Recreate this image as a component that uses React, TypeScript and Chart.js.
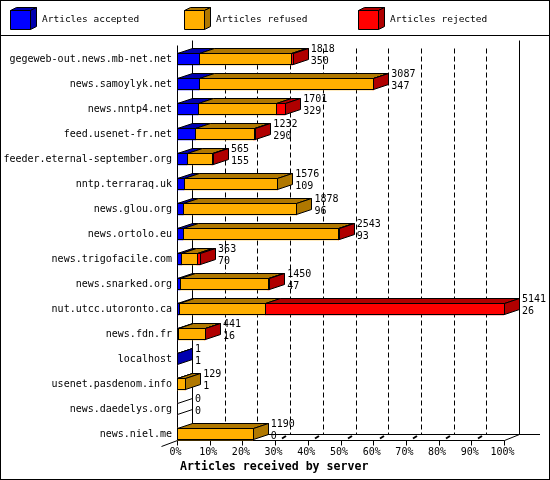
import React, { useEffect, useRef } from "react";
import { Chart, registerables } from "chart.js";

Chart.register(...registerables);

const servers = [
  "gegeweb-out.news.mb-net.net",
  "news.samoylyk.net",
  "news.nntp4.net",
  "feed.usenet-fr.net",
  "feeder.eternal-september.org",
  "nntp.terraraq.uk",
  "news.glou.org",
  "news.ortolo.eu",
  "news.trigofacile.com",
  "news.snarked.org",
  "nut.utcc.utoronto.ca",
  "news.fdn.fr",
  "localhost",
  "usenet.pasdenom.info",
  "news.daedelys.org",
  "news.niel.me",
];
const accepted = [350, 347, 329, 290, 155, 109, 96, 93, 70, 47, 26, 16, 1, 1, 0, 0];
const refused = [1440, 2735, 1230, 915, 395, 1467, 1782, 2445, 244, 1384, 1362, 420, 0, 128, 0, 1190];
const rejected = [28, 5, 142, 27, 15, 0, 0, 5, 49, 19, 3753, 5, 0, 0, 0, 0];
const seriesNames = ["Articles accepted", "Articles refused", "Articles rejected"];
const percentTicks = [0, 10, 20, 30, 40, 50, 60, 70, 80, 90, 100];
const xTitle = "Articles received by server";

const FRONT = ["#0000FF", "#FFAF00", "#FF0000"];
const DARK = ["#0000B0", "#B07800", "#B00000"];
const DX = 15;
const DY = 5;
const MONO = "'DejaVu Sans Mono', 'Liberation Mono', monospace";

const totals = servers.map((_, i) => accepted[i] + refused[i] + rejected[i]);
const maxTotal = Math.max(...totals);

function poly(ctx: CanvasRenderingContext2D, pts: number[][], fill: string | null) {
  ctx.beginPath();
  ctx.moveTo(pts[0][0], pts[0][1]);
  for (let i = 1; i < pts.length; i++) ctx.lineTo(pts[i][0], pts[i][1]);
  ctx.closePath();
  if (fill) {
    ctx.fillStyle = fill;
    ctx.fill();
  }
  ctx.stroke();
}

function seg(ctx: CanvasRenderingContext2D, x1: number, y1: number, x2: number, y2: number) {
  ctx.beginPath();
  ctx.moveTo(x1, y1);
  ctx.lineTo(x2, y2);
  ctx.stroke();
}

const r = (v: number) => Math.round(v) + 0.5;

const threeD = {
  id: "threeD",
  beforeDraw(chart: any) {
    const ctx: CanvasRenderingContext2D = chart.ctx;
    const W = chart.width;
    const H = chart.height;
    ctx.save();
    ctx.fillStyle = "#fff";
    ctx.fillRect(0, 0, W, H);
    ctx.strokeStyle = "#000";
    ctx.lineWidth = 1;
    ctx.strokeRect(0.5, 0.5, W - 1, H - 1);
    seg(ctx, 0, 35.5, W, 35.5);
    const lx = [10, 184, 358];
    for (let k = 0; k < 3; k++) {
      const x = lx[k] + 0.5;
      const y = 10.5;
      const w = 20;
      const h = 19;
      const dx = 6;
      const dy = 3;
      poly(ctx, [[x, y], [x + w, y], [x + w, y + h], [x, y + h]], FRONT[k]);
      poly(ctx, [[x, y], [x + dx, y - dy], [x + w + dx, y - dy], [x + w, y]], DARK[k]);
      poly(ctx, [[x + w, y], [x + w + dx, y - dy], [x + w + dx, y + h - dy], [x + w, y + h]], DARK[k]);
      ctx.fillStyle = "#000";
      ctx.font = `9.5px ${MONO}`;
      ctx.textAlign = "left";
      ctx.textBaseline = "middle";
      ctx.fillText(seriesNames[k], lx[k] + 32, 20);
    }
    ctx.restore();
  },
  beforeDatasetsDraw(chart: any) {
    const ctx: CanvasRenderingContext2D = chart.ctx;
    const xs = chart.scales.x;
    const ys = chart.scales.y;
    const area = chart.chartArea;
    const floorY = Math.round(ys.getPixelForValue(servers.length - 1) + 6) + 0.5;
    const backFloorY = floorY - 6;
    const backTop = Math.round(area.top - 6.5) + 0.5;
    const x0 = r(xs.getPixelForValue(0));
    const x100 = r(xs.getPixelForValue(maxTotal));
    ctx.save();
    ctx.strokeStyle = "#000";
    ctx.lineWidth = 1;
    // dashed back grid
    ctx.setLineDash([5, 3]);
    for (const p of percentTicks) {
      if (p === 0 || p === 100) continue;
      const gx = r(xs.getPixelForValue((maxTotal * p) / 100)) + DX;
      seg(ctx, gx, backTop + 8, gx, backFloorY);
    }
    ctx.setLineDash([]);
    // back axis & right wall
    seg(ctx, x0 + DX, backTop, x0 + DX, backFloorY);
    seg(ctx, x100 + DX, backTop, x100 + DX, backFloorY);
    // back floor line
    seg(ctx, x0 + DX, backFloorY, chart.width - 10, backFloorY);
    // front axis
    seg(ctx, x0, backTop + 5, x0, floorY);
    seg(ctx, x0, floorY, x100, floorY);
    seg(ctx, x100, floorY, x100 + DX, backFloorY);
    seg(ctx, x0 - 16, floorY + 6, x0, floorY);
    // floor grid marks and ticks
    for (const p of percentTicks) {
      const tx = r(xs.getPixelForValue((maxTotal * p) / 100));
      seg(ctx, tx, floorY, tx, floorY + 5);
      if (p === 100) continue;
      ctx.lineWidth = 2;
      seg(ctx, tx + 6.5, floorY - 2, tx + 10.5, floorY - 4.5);
      ctx.lineWidth = 1;
    }
    ctx.restore();
  },
  afterDatasetsDraw(chart: any) {
    const ctx: CanvasRenderingContext2D = chart.ctx;
    const xs = chart.scales.x;
    const metas = [0, 1, 2].map((k) => chart.getDatasetMeta(k));
    ctx.save();
    ctx.strokeStyle = "#000";
    ctx.lineWidth = 1;
    for (let i = 0; i < servers.length; i++) {
      const vals = [accepted[i], refused[i], rejected[i]];
      const el0 = metas[0].data[i];
      const cy = el0.y;
      const half = el0.height / 2;
      const yT = r(cy - half);
      const yB = r(cy + half) - 1;
      let lastK = -1;
      let lastEnd = r(xs.getPixelForValue(0));
      for (let k = 0; k < 3; k++) {
        if (vals[k] <= 0) continue;
        const el = metas[k].data[i];
        const a = r(Math.min(el.base, el.x));
        const b = r(Math.max(el.base, el.x));
        // front outline
        ctx.strokeRect(a, yT, b - a, yB - yT);
        // top face
        poly(ctx, [[a, yT], [a + DX, yT - DY], [b + DX, yT - DY], [b, yT]], DARK[k]);
        lastK = k;
        lastEnd = b;
      }
      if (lastK >= 0) {
        poly(
          ctx,
          [[lastEnd, yT], [lastEnd + DX, yT - DY], [lastEnd + DX, yB - DY], [lastEnd, yB]],
          DARK[lastK]
        );
      } else {
        poly(ctx, [[lastEnd, yT], [lastEnd + DX, yT - DY], [lastEnd + DX, yB - DY], [lastEnd, yB]], null);
      }
      // value labels
      const fx = xs.getPixelForValue(totals[i]);
      ctx.fillStyle = "#000";
      ctx.font = `10px ${MONO}`;
      ctx.textAlign = "left";
      ctx.textBaseline = "middle";
      ctx.fillText(String(totals[i]), fx + 18, cy - 9.5);
      ctx.fillText(String(accepted[i]), fx + 18, cy + 2);
    }
    ctx.restore();
  },
  afterDraw(chart: any) {
    const ctx: CanvasRenderingContext2D = chart.ctx;
    const xs = chart.scales.x;
    const ys = chart.scales.y;
    const floorY = ys.getPixelForValue(servers.length - 1) + 6;
    ctx.save();
    ctx.fillStyle = "#000";
    ctx.font = `10px ${MONO}`;
    ctx.textAlign = "center";
    ctx.textBaseline = "middle";
    for (const p of percentTicks) {
      const tx = xs.getPixelForValue((maxTotal * p) / 100);
      ctx.fillText(p + "%", tx - 1.5, floorY + 12.5);
    }
    ctx.font = `bold 11.6px ${MONO}`;
    ctx.textAlign = "left";
    ctx.fillText(xTitle, 180, floorY + 27);
    ctx.restore();
  },
};

export default function App() {
  const ref = useRef<HTMLCanvasElement | null>(null);
  useEffect(() => {
    document.body.style.margin = "0";
    const canvas = ref.current;
    if (!canvas) return;
    const chart = new Chart(canvas, {
      type: "bar",
      data: {
        labels: servers,
        datasets: [
          { label: seriesNames[0], data: accepted, backgroundColor: FRONT[0] },
          { label: seriesNames[1], data: refused, backgroundColor: FRONT[1] },
          { label: seriesNames[2], data: rejected, backgroundColor: FRONT[2] },
        ].map((d) => ({ ...d, borderWidth: 0, barThickness: 12, stack: "s" })),
      },
      options: {
        indexAxis: "y",
        responsive: false,
        animation: false,
        devicePixelRatio: 1,
        layout: { padding: { left: 0, right: 46, top: 46.5, bottom: 33.5 } },
        plugins: { legend: { display: false }, tooltip: { enabled: false } },
        scales: {
          x: { type: "linear", stacked: true, min: 0, max: maxTotal, display: false },
          y: {
            type: "category",
            stacked: true,
            grid: { display: false, drawTicks: false },
            border: { display: false },
            ticks: {
              color: "#000",
              padding: 5,
              autoSkip: false,
              font: { family: MONO, size: 10 },
            },
            afterFit: (s: any) => {
              s.width = 177;
            },
          },
        },
      },
      plugins: [threeD],
    } as any);
    return () => chart.destroy();
  }, []);
  return <canvas ref={ref} width={550} height={480} style={{ display: "block" }} />;
}
